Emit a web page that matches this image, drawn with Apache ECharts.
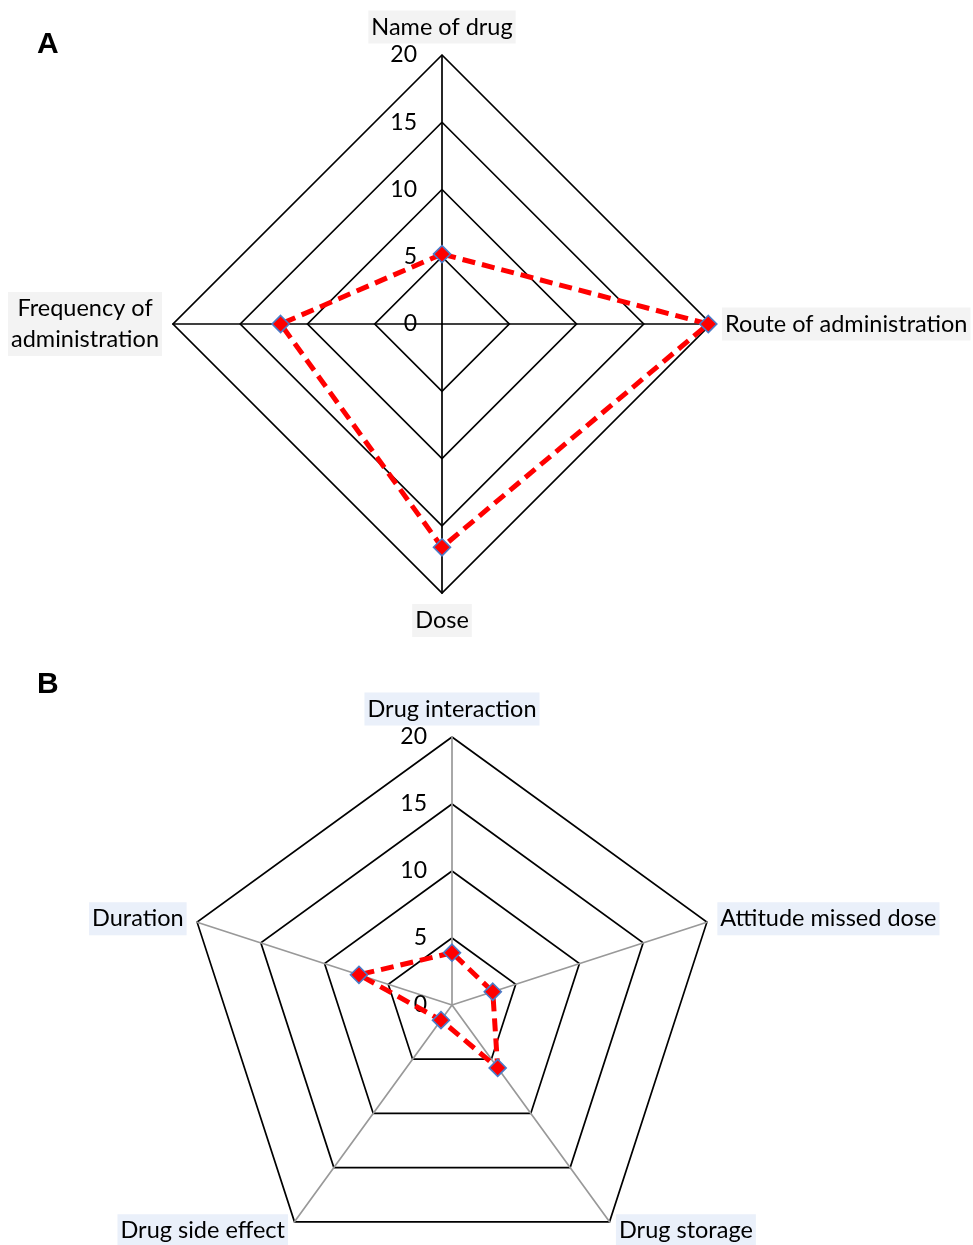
<!DOCTYPE html>
<html><head><meta charset="utf-8">
<script src="https://cdn.jsdelivr.net/npm/echarts@6/dist/echarts.min.js"></script>
<style>html,body{margin:0;padding:0;background:#fff}#c{width:973px;height:1245px}</style>
</head><body><div id="c"></div>
<script>
// Panel A indicators (listed counter-clockwise from the top, as ECharts lays them out)
const catsA = ['Name of drug', 'Frequency of\nadministration', 'Dose', 'Route of administration'];
const valsA = [5.2, 12.0, 16.6, 19.8];
// Panel B indicators (counter-clockwise from the top)
const catsB = ['Drug interaction', 'Duration', 'Drug side effect', 'Drug storage', 'Attitude missed dose'];
const valsB = [3.9, 7.3, 1.4, 5.8, 3.2];
const maxVal = 20;
const tickLabels = ['0', '5', '10', '15', '20'];

const FONT = 'Lato';
function indicators(cats) {
  return cats.map((c, i) => ({
    name: c, min: 0, max: maxVal,
    axisLabel: i === 0 ? {show: true} : {show: false}
  }));
}
function radarCfg(cats, center, radius, spokeColor, bg, gap) {
  return {
    center: center, radius: radius, startAngle: 90, shape: 'polygon', splitNumber: 4,
    indicator: indicators(cats),
    axisName: {
      color: '#000', fontFamily: FONT, fontSize: 23.5, lineHeight: 31,
      backgroundColor: bg, padding: [1, 3],
      formatter: n => n.split('\n').map(s => '{c|' + s + '}').join('\n'),
      rich: {c: {align: 'center', color: '#000', fontFamily: FONT, fontSize: 23.5, lineHeight: 31}}
    },
    nameGap: gap,
    splitLine: {lineStyle: {color: '#000', width: 1.7}},
    splitArea: {show: false},
    axisLine: {lineStyle: {color: spokeColor, width: 1.7}},
    axisTick: {show: false},
    axisLabel: {show: false, color: '#000', fontFamily: FONT, fontSize: 23, margin: 25,
      formatter: v => tickLabels[Math.round(v / 5)] ?? ''}
  };
}
const lineStyle = {color: '#ff0000', width: 5, type: [13, 7]};
const itemStyle = {color: '#ff0000', borderColor: '#4a7bc8', borderWidth: 1.6};

const chart = echarts.init(document.getElementById('c'));
chart.setOption({
  animation: false,
  graphic: [
    {type: 'text', left: 37, top: 30, style: {text: 'A', font: 'bold 30px Liberation Sans', fill: '#000'}},
    {type: 'text', left: 37, top: 670, style: {text: 'B', font: 'bold 30px Liberation Sans', fill: '#000'}}
  ],
  radar: [
    radarCfg(catsA, [442, 324], 269, '#000', 'rgba(200,200,200,0.22)', 11),
    radarCfg(catsB, [452, 1005], 268, '#999', 'rgba(170,195,235,0.25)', 11)
  ],
  series: [
    {type: 'radar', radarIndex: 0, symbol: 'diamond', symbolSize: 17,
      lineStyle: lineStyle, itemStyle: itemStyle,
      data: [{value: valsA}]},
    {type: 'radar', radarIndex: 1, symbol: 'diamond', symbolSize: 17,
      lineStyle: lineStyle, itemStyle: itemStyle,
      data: [{value: valsB}]}
  ]
});
</script></body></html>
